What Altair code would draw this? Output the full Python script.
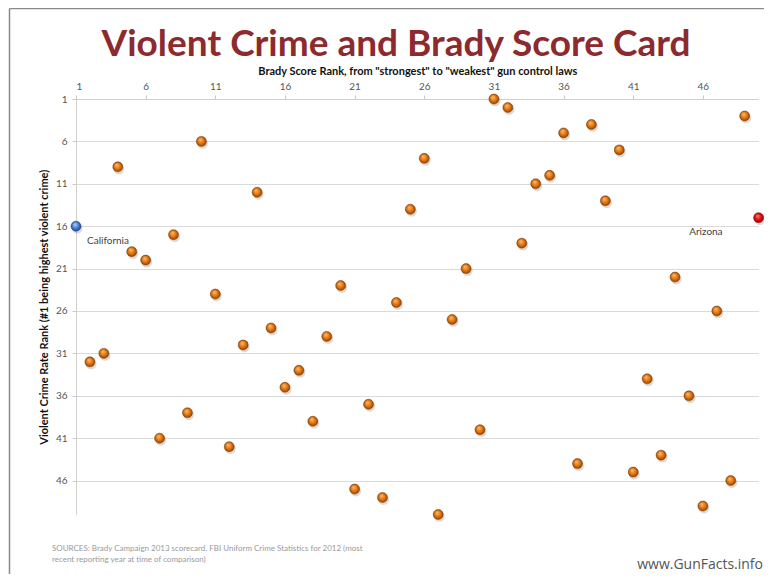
import altair as alt
import pandas as pd

# Brady score rank (x) and violent crime rate rank (y), one entry per state
brady_rank = [1, 2, 3, 4, 5, 6, 7, 8, 9, 10,
              11, 12, 13, 14, 15, 16, 17, 18, 19, 20,
              21, 22, 23, 24, 25, 26, 27, 28, 29, 30,
              31, 32, 33, 34, 35, 36, 37, 38, 39, 40,
              41, 42, 43, 44, 45, 46, 47, 48, 49, 50]
crime_rank = [16, 32, 31, 9, 19, 20, 41, 17, 38, 6,
              24, 42, 30, 12, 28, 35, 33, 39, 29, 23,
              47, 37, 48, 25, 14, 8, 50, 27, 21, 40,
              1, 2, 18, 11, 10, 5, 44, 4, 13, 7,
              45, 34, 43, 22, 36, 49, 26, 46, 3, 15]
state_label = ["California"] + [""] * 48 + ["Arizona"]
point_group = ["blue"] + ["orange"] * 48 + ["red"]

tick_values = [1, 6, 11, 16, 21, 26, 31, 36, 41, 46]

title_text = "Violent Crime and Brady Score Card"
x_title = 'Brady Score Rank, from "strongest" to "weakest" gun control laws'
y_title = "Violent Crime Rate Rank (#1 being highest violent crime)"
source_lines = ["SOURCES: Brady Campaign 2013 scorecard. FBI Uniform Crime Statistics for 2012 (most",
                "recent reporting year at time of comparison)"]
site_text = "www.GunFacts.info"

df = pd.DataFrame({"brady": brady_rank, "crime": crime_rank,
                   "label": state_label, "group": point_group})

W, H = 682.6, 415.5
FONT = "Lato"

xenc = alt.X("brady:Q",
             scale=alt.Scale(domain=[1, 50], nice=False, zero=False),
             axis=alt.Axis(orient="top", values=tick_values, title=x_title, grid=False,
                           domain=True, domainColor="#d0d0d0", ticks=True, tickSize=4,
                           tickColor="#c8c8c8", labelPadding=4, labelFontSize=10,
                           labelColor="#555555", titleFontSize=11, titleFontWeight="bold",
                           titleColor="#111111", titlePadding=5, labelFont=FONT, titleFont=FONT))
yenc = alt.Y("crime:Q",
             scale=alt.Scale(domain=[1, 50], nice=False, zero=False, reverse=True),
             axis=alt.Axis(values=tick_values, title=y_title, grid=True, gridColor="#dadada",
                           domain=True, domainColor="#d0d0d0", ticks=True, tickSize=4,
                           tickColor="#c8c8c8", labelPadding=5, labelFontSize=10,
                           labelColor="#555555", titleFontSize=11, titleFontWeight="bold",
                           titleColor="#111111", titlePadding=6, labelFont=FONT, titleFont=FONT))


def ball(c_light, c_mid, c_dark):
    return alt.RadialGradient(gradient="radial",
                              stops=[alt.GradientStop(color=c_light, offset=0),
                                     alt.GradientStop(color=c_mid, offset=0.55),
                                     alt.GradientStop(color=c_dark, offset=1)],
                              x1=0.38, y1=0.3, r1=0, x2=0.5, y2=0.5, r2=0.55)


base = alt.Chart(df)

shadow = base.mark_circle(size=115, color="#5a3a20", opacity=0.2, xOffset=1.2, yOffset=2).encode(x=xenc, y=yenc)
orange = base.transform_filter(alt.datum.group == "orange").mark_circle(
    size=100, opacity=1, fill=ball("#ffc27a", "#e0760f", "#8a3c05"),
    stroke="#7a3400", strokeWidth=0.5).encode(x=xenc, y=yenc)
blue = base.transform_filter(alt.datum.group == "blue").mark_circle(
    size=100, opacity=1, fill=ball("#bcd6ff", "#4a80d0", "#1d3f80"),
    stroke="#1d3f80", strokeWidth=0.5).encode(x=xenc, y=yenc)
red = base.transform_filter(alt.datum.group == "red").mark_circle(
    size=100, opacity=1, fill=ball("#ff8a80", "#e01010", "#8a0000"),
    stroke="#800000", strokeWidth=0.5).encode(x=xenc, y=yenc)

ca_label = base.transform_filter(alt.datum.label == "California").mark_text(
    font=FONT, fontSize=10, color="#444444", align="left", dx=11, dy=15).encode(x=xenc, y=yenc, text="label:N")
az_label = base.transform_filter(alt.datum.label == "Arizona").mark_text(
    font=FONT, fontSize=10, color="#444444", align="right", dx=-36, dy=14).encode(x=xenc, y=yenc, text="label:N")

title_df = pd.DataFrame({"t": [title_text]})
title = alt.Chart(title_df).mark_text(
    font=FONT, fontSize=37, fontWeight="bold", color="#8c2a2e",
    align="center", baseline="alphabetic").encode(text="t:N", x=alt.value(320), y=alt.value(-43))

src1 = alt.Chart(pd.DataFrame({"t": [source_lines[0]]})).mark_text(
    font=FONT, fontSize=8, color="#9a9a9a", align="left", baseline="middle").encode(
    text="t:N", x=alt.value(-24), y=alt.value(450))
src2 = alt.Chart(pd.DataFrame({"t": [source_lines[1]]})).mark_text(
    font=FONT, fontSize=8, color="#9a9a9a", align="left", baseline="middle").encode(
    text="t:N", x=alt.value(-24), y=alt.value(461))
site = alt.Chart(pd.DataFrame({"t": [site_text]})).mark_text(
    font="Open Sans", fontSize=14, color="#555555", align="right", baseline="middle").encode(
    text="t:N", x=alt.value(687), y=alt.value(466))

frame_left = alt.Chart(pd.DataFrame({"a": [0]})).mark_rule(color="#8a8a8a", strokeWidth=1.5).encode(
    x=alt.value(-66.5), y=alt.value(-90.5), y2=alt.value(480))
frame_top = alt.Chart(pd.DataFrame({"a": [0]})).mark_rule(color="#8a8a8a", strokeWidth=1.5).encode(
    x=alt.value(-66.5), x2=alt.value(700), y=alt.value(-90.5))

chart = alt.layer(
    shadow, orange, blue, red, ca_label, az_label,
    title, src1, src2, site, frame_left, frame_top
).properties(
    width=W, height=H,
    autosize=alt.AutoSizeParams(type="none"),
    padding={"left": 68, "top": 91, "right": 5, "bottom": 59},
    background="white",
).configure_view(stroke=None)

chart.save("out.html", embed_options={"renderer": "svg", "actions": False})
